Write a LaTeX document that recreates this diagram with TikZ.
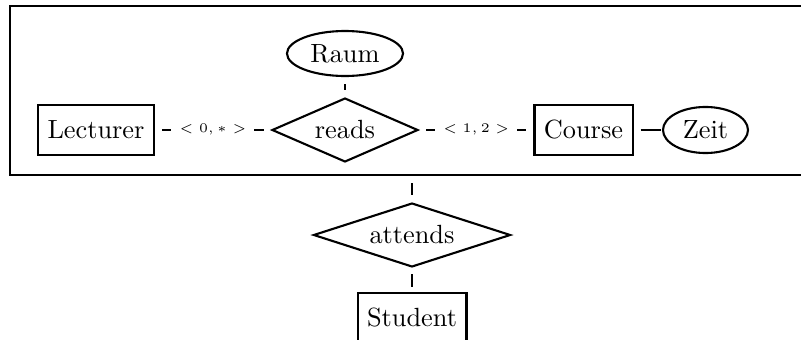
\documentclass[tikz,border=0pt]{standalone}
\usetikzlibrary{shapes.geometric}
\begin{document}
\begin{tikzpicture}[x=0.38pt,y=-0.38pt,
  every node/.style={font=\normalsize, line width=0.8pt},
  entity/.style={draw, rectangle, minimum height=19pt, inner xsep=3.6pt, inner ysep=0pt},
  attr/.style={draw, ellipse, inner sep=0pt},
  rel/.style={draw, diamond, inner sep=0pt, minimum height=24.3pt},
  conn/.style={line width=0.8pt, shorten <=2.7pt, shorten >=2.7pt},
  card/.style={fill=white, draw=none, inner xsep=3pt, font=\tiny}]
\useasboundingbox (0,0) rectangle (801,340);
\clip (0,0) rectangle (801,340);
\node[draw, line width=0.95pt, minimum width=305.5pt, minimum height=64.2pt, inner sep=0pt] (agg) at (412,90.5) {};
\node[entity] (lect) at (96,130) {Lecturer};
\node[rel, aspect=2.28, minimum width=55.5pt] (reads) at (345,130) {reads};
\node[attr, minimum width=44.1pt, minimum height=17.1pt] (raum) at (345,53.5) {Raum};
\node[entity] (course) at (583.5,130) {Course};
\node[attr, minimum width=32.3pt, minimum height=17.5pt] (zeit) at (705.5,130) {Zeit};
\node[rel, aspect=3.08, minimum width=74.9pt] (att) at (412,235) {attends};
\node[entity] (stud) at (412,318) {Student};
\draw[conn] (lect) -- node[card]{$<0,*>$} (reads);
\draw[conn] (reads) -- node[card]{$<1,2>$} (course);
\draw[conn] (raum) -- (reads);
\draw[conn, shorten >=0.4pt] (course) -- (zeit);
\draw[conn] (agg) -- (att);
\draw[conn, shorten <=2.3pt, shorten >=1.9pt] (att) -- (stud);
\end{tikzpicture}
\end{document}
